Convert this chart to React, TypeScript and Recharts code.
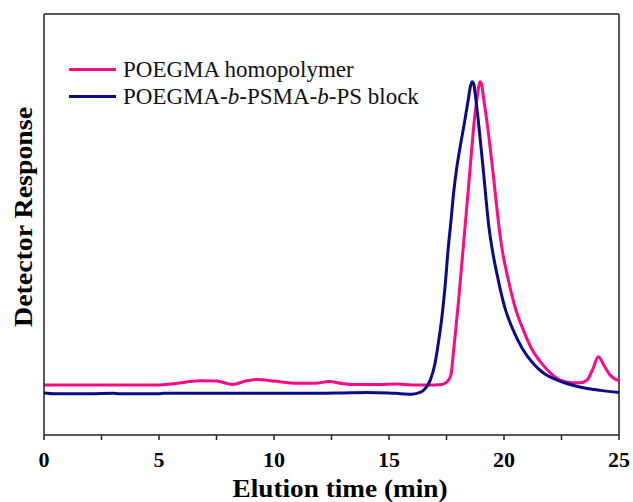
import { LineChart, Line, XAxis, YAxis, ReferenceLine } from "recharts";

// elution time (min) / detector response (arb. units, 0-100)
const pinkTime = [
  0, 5, 5.5, 6.2, 6.8, 7.5, 8.2, 8.8, 9.3, 10, 11, 11.8, 12.4, 13, 13.5, 14.5, 15.4, 16, 17,
  17.3, 17.43, 17.6, 17.7, 17.8, 17.9, 18.0, 18.23, 18.52, 18.71, 18.84, 18.9, 18.96, 19.03, 19.1,
  19.25, 19.51, 19.8, 19.9, 20.19, 20.5, 20.84, 21.2, 21.64, 22.0, 22.35, 22.7, 23.0, 23.3, 23.6,
  23.85, 24.1, 24.35, 24.6, 25,
];
const pinkResp = [
  11.9, 11.9, 12.1, 12.6, 12.9, 12.8, 12.0, 12.9, 13.2, 12.8, 12.3, 12.3, 12.7, 12.2, 12.0, 12.0,
  12.1, 11.9, 11.9, 12.0, 12.3, 13.1, 14.5, 19.5, 25, 30.5, 44.7, 62.9, 74.8, 80.5, 82.8, 83.9,
  83.2, 80.5, 74.8, 62.9, 48.7, 44.7, 36.8, 30, 24.9, 20.5, 17.0, 14.8, 13.3, 12.6, 12.4, 12.4,
  13.0, 15.5, 18.6, 16.5, 14.3, 12.9,
];

const blueTime = [
  0, 0.5, 2, 3, 3.3, 5, 5.2, 8, 10, 12, 13, 14, 15, 15.5, 16, 16.35, 16.6, 16.8, 17.0, 17.15,
  17.3, 17.45, 17.58, 17.68, 17.8, 17.93, 18.08, 18.3, 18.45, 18.54, 18.62, 18.69, 18.76, 18.88,
  19.1, 19.36, 19.47, 19.75, 20.05, 20.4, 20.8, 21.27, 21.7, 22.29, 23.3, 24.2, 25,
];
const blueResp = [
  10.0, 9.8, 9.8, 9.9, 9.8, 9.8, 9.9, 9.9, 9.9, 9.9, 10.0, 10.1, 10.0, 9.8, 9.7, 10.1, 11.2, 13.1,
  17, 22, 28, 36, 44.7, 50, 57, 62.9, 68, 74.8, 79.8, 82.8, 83.9, 83.2, 80.5, 74.8, 62.9, 48.7,
  44.7, 36.8, 30, 24.9, 20.5, 17.0, 14.8, 13.1, 11.4, 10.6, 10.1,
];

const xTicks = [0, 2.5, 5, 7.5, 10, 12.5, 15, 17.5, 20, 22.5, 25];

const PINK = "#ff0a84";
const BLUE = "#0c0a86";
const SERIF = '"Liberation Serif", "Times New Roman", serif';

const pinkData = pinkTime.map((t, i) => ({ t, v: pinkResp[i] }));
const blueData = blueTime.map((t, i) => ({ t, v: blueResp[i] }));

function XTick(props: any) {
  const { x, y, payload } = props;
  if (payload.value % 5 !== 0) return <g />;
  return (
    <text x={x} y={y} dy={25} textAnchor="middle" fontFamily={SERIF} fontWeight="bold" fontSize={22} fill="#000">
      {payload.value}
    </text>
  );
}

function XTitle() {
  return (
    <text
      x={340}
      y={497}
      textAnchor="middle"
      fontFamily={SERIF}
      fontWeight="bold"
      fontSize={25}
      textLength={215}
      lengthAdjust="spacingAndGlyphs"
      fill="#000"
    >
      Elution time (min)
    </text>
  );
}

function YTitle() {
  return (
    <text
      transform="translate(32, 217) rotate(-90)"
      textAnchor="middle"
      fontFamily={SERIF}
      fontWeight="bold"
      fontSize={26}
      textLength={220}
      lengthAdjust="spacingAndGlyphs"
      fill="#000"
    >
      Detector Response
    </text>
  );
}

function LegendBox() {
  const rows = [
    { color: PINK, label: <>POEGMA homopolymer</> },
    {
      color: BLUE,
      label: (
        <>
          POEGMA-<i>b</i>-PSMA-<i>b</i>-PS block
        </>
      ),
    },
  ];
  return (
    <div style={{ position: "absolute", top: 56, left: 69, fontFamily: SERIF, fontSize: 23, color: "#111" }}>
      {rows.map((r, i) => (
        <div key={i} style={{ display: "flex", alignItems: "center", height: 27 }}>
          <div style={{ width: 47, height: 3, background: r.color, marginRight: 7 }} />
          <span style={{ whiteSpace: "nowrap" }}>{r.label}</span>
        </div>
      ))}
    </div>
  );
}

export default function App() {
  return (
    <div style={{ position: "relative", width: 633, height: 502 }}>
      <style>{"body { margin: 0; }"}</style>
      <LineChart width={633} height={502} margin={{ top: 14, right: 14, left: 0, bottom: 0 }}>
        <XAxis
          type="number"
          dataKey="t"
          domain={[0, 25]}
          ticks={xTicks}
          tick={<XTick />}
          tickSize={5}
          tickMargin={2}
          height={67}
          interval={0}
          axisLine={{ stroke: "#222", strokeWidth: 1.5 }}
          tickLine={{ stroke: "#222", strokeWidth: 1.5 }}
          allowDuplicatedCategory={false}
          label={<XTitle />}
        />
        <YAxis
          type="number"
          domain={[0, 100]}
          width={44}
          tick={false}
          tickLine={false}
          axisLine={{ stroke: "#222", strokeWidth: 1.5 }}
          label={<YTitle />}
        />
        <ReferenceLine y={100} stroke="#222" strokeWidth={1.5} />
        <ReferenceLine x={25} stroke="#222" strokeWidth={1.5} />
        <Line
          data={pinkData}
          dataKey="v"
          type="monotone"
          stroke={PINK}
          strokeWidth={3}
          dot={false}
          isAnimationActive={false}
        />
        <Line
          data={blueData}
          dataKey="v"
          type="monotone"
          stroke={BLUE}
          strokeWidth={3}
          dot={false}
          isAnimationActive={false}
        />
      </LineChart>
      <LegendBox />
    </div>
  );
}
